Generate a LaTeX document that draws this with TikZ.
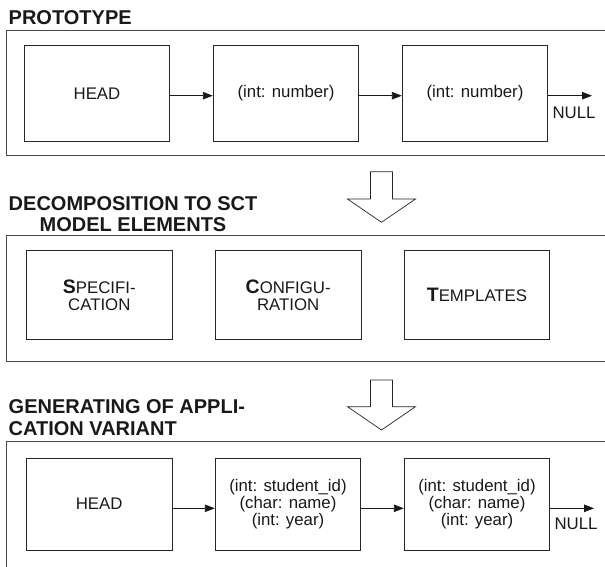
\documentclass[tikz,border=0pt]{standalone}
\usepackage{fontspec}
\setmainfont{Liberation Sans}
\usetikzlibrary{arrows.meta}
\begin{document}
\begin{tikzpicture}[x=1pt,y=-1pt,
 frame/.style={draw=black!72, line width=0.9pt},
 box/.style={draw=black!85, line width=0.9pt, minimum width=145.5pt, inner sep=0pt, align=center, font=\fontsize{16.8}{17}\selectfont, text=black!90},
 title/.style={font=\bfseries\fontsize{20}{21.6}\selectfont, inner sep=0pt, text=black!90},
 nulltext/.style={font=\fontsize{16.8}{17}\selectfont, inner sep=0pt, text=black!90},
 link/.style={-{Triangle[length=10pt,width=7.5pt]}, line width=0.9pt, draw=black!90},
 bigarrow/.style={draw=black!85, fill=white, line width=0.7pt, line join=miter},
]
\useasboundingbox (0,0) rectangle (605,566);

% ---------- section 1 ----------
\node[title, anchor=west] (t1) at (8.5,17.3) {PROTOTYPE};
\draw[frame] (6.6,30.7) rectangle (620,155.7);
\node[box, minimum height=96pt] (a1) at (97,93.3) {HEAD};
\node[box, minimum height=96pt] (a2) at (286,93.3) {(int: number)};
\node[box, minimum height=96pt] (a3) at (475,93.3) {(int: number)};
\coordinate (ya) at (0,95.7);
\coordinate (enda) at (592,95.7);
\draw[link] (a1.east |- ya) -- (a2.west |- ya);
\draw[link] (a2.east |- ya) -- (a3.west |- ya);
\draw[link] (a3.east |- ya) -- (enda);
\node[nulltext] (null1) at (574,112.5) {NULL};

% ---------- arrow 1 ----------
\draw[bigarrow] (370.5,171.7) -- (392.5,171.7) -- (392.5,199) -- (415.5,199) -- (381.5,222.3) -- (347.5,199) -- (370.5,199) -- cycle;

% ---------- section 2 ----------
\node[title, align=center] (t2) at (133,214.3) {DECOMPOSITION TO SCT\\MODEL ELEMENTS};
\draw[frame] (6.6,235) rectangle (620,361);
\node[box, minimum height=88.6pt] (b1) at (99.3,295) {{\bfseries\fontsize{19.5}{17}\selectfont S}PECIFI-\\CATION};
\node[box, minimum height=88.6pt] (b2) at (288.2,295) {{\bfseries\fontsize{19.5}{17}\selectfont C}ONFIGU-\\RATION};
\node[box, minimum height=88.6pt] (b3) at (477,295) {{\bfseries\fontsize{19.5}{17}\selectfont T}EMPLATES};

% ---------- arrow 2 ----------
\draw[bigarrow] (370.5,380) -- (392.5,380) -- (392.5,406.7) -- (415.5,406.7) -- (381.5,430) -- (347.5,406.7) -- (370.5,406.7) -- cycle;

% ---------- section 3 ----------
\node[title, align=left, anchor=west] (t3) at (8.5,417.5) {GENERATING OF APPLI-\\CATION VARIANT};
\draw[frame] (6.6,441) rectangle (620,580);
\node[box, minimum height=91.7pt] (c1) at (99.2,504.2) {HEAD};
\node[box, minimum height=91.7pt] (c2) at (288,504.2) {(int: student\_id)\\(char: name)\\(int: year)};
\node[box, minimum height=91.7pt] (c3) at (477,504.2) {(int: student\_id)\\(char: name)\\(int: year)};
\coordinate (yc) at (0,508.3);
\coordinate (endc) at (594,508.3);
\draw[link] (c1.east |- yc) -- (c2.west |- yc);
\draw[link] (c2.east |- yc) -- (c3.west |- yc);
\draw[link] (c3.east |- yc) -- (endc);
\node[nulltext] (null2) at (576,524) {NULL};
\end{tikzpicture}
\end{document}
